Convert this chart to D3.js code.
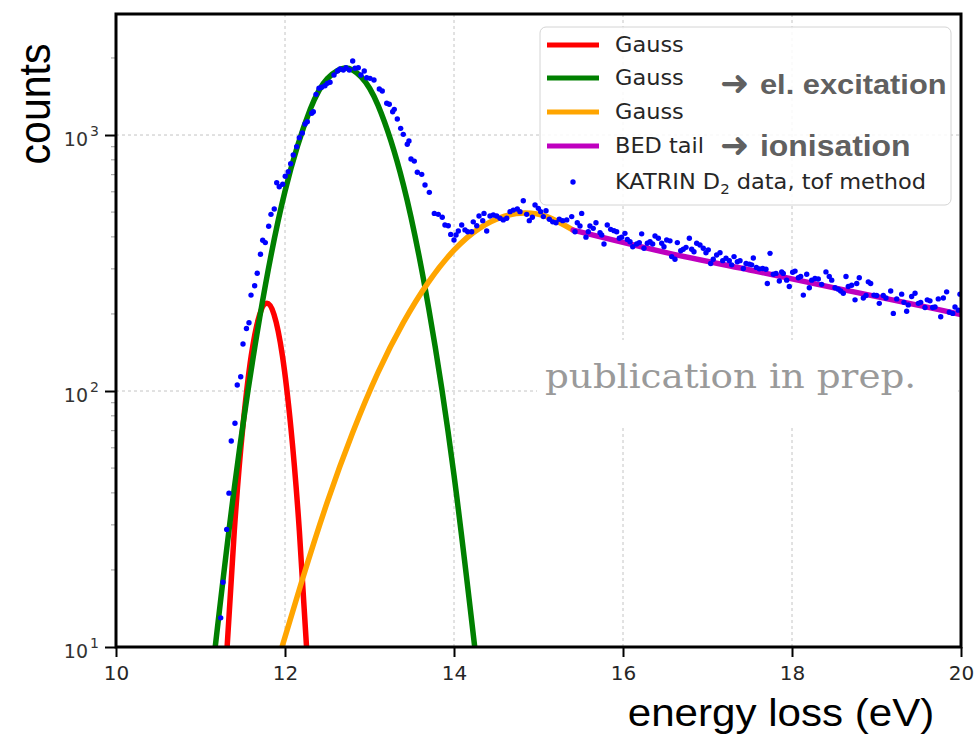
<!DOCTYPE html>
<html>
<head>
<meta charset="utf-8">
<script src="https://cdn.jsdelivr.net/npm/d3@7"></script>
<style>
body { margin: 0; background: #fff; }
svg { display: block; }
</style>
</head>
<body>
<script>
var dataE = [11.239, 11.266, 11.310, 11.337, 11.364, 11.408, 11.435, 11.476, 11.503, 11.544,
    11.574, 11.598, 11.641, 11.671, 11.710, 11.736, 11.767, 11.807, 11.834, 11.873,
    11.902, 11.932, 11.973, 12.003, 12.039, 12.067, 12.098, 12.138, 12.169, 12.205,
    12.237, 12.264, 12.316, 12.335, 12.367, 12.402, 12.434, 12.473, 12.501, 12.533,
    12.580, 12.621, 12.651, 12.690, 12.722, 12.761, 12.801, 12.828, 12.867, 12.899,
    12.938, 12.967, 13.006, 13.053, 13.116, 13.151, 13.204, 13.234, 13.274, 13.293,
    13.329, 13.369, 13.400, 13.447, 13.467, 13.491, 13.530, 13.566, 13.618, 13.657,
    13.708, 13.767, 13.814, 13.861, 13.893, 13.932, 13.961, 14.000, 14.024, 14.051,
    14.091, 14.130, 14.162, 14.209, 14.228, 14.269, 14.296, 14.340, 14.355, 14.387,
    14.426, 14.465, 14.505, 14.544, 14.583, 14.624, 14.663, 14.702, 14.749, 14.781,
    14.820, 14.860, 14.891, 14.927, 14.959, 14.998, 15.026, 15.057, 15.089, 15.128,
    15.168, 15.207, 15.246, 15.286, 15.334, 15.393, 15.432, 15.459, 15.491, 15.511,
    15.562, 15.589, 15.609, 15.648, 15.680, 15.728, 15.748, 15.775, 15.814, 15.854,
    15.893, 15.925, 15.956, 15.984, 16.023, 16.051, 16.083, 16.115, 16.162, 16.193,
    16.221, 16.248, 16.288, 16.320, 16.351, 16.379, 16.418, 16.458, 16.485, 16.517,
    16.556, 16.576, 16.615, 16.643, 16.683, 16.713, 16.746, 16.785, 16.813, 16.840,
    16.872, 16.911, 16.950, 16.982, 17.009, 17.038, 17.068, 17.108, 17.148, 17.180,
    17.219, 17.258, 17.286, 17.314, 17.353, 17.385, 17.424, 17.456, 17.495, 17.523,
    17.542, 17.578, 17.613, 17.653, 17.692, 17.708, 17.740, 17.779, 17.811, 17.850,
    17.878, 17.897, 17.937, 17.968, 18.008, 18.036, 18.075, 18.103, 18.134, 18.174,
    18.205, 18.233, 18.272, 18.311, 18.351, 18.402, 18.441, 18.470, 18.509, 18.548,
    18.576, 18.607, 18.639, 18.666, 18.706, 18.746, 18.766, 18.796, 18.844, 18.876,
    18.903, 18.931, 18.970, 19.002, 19.033, 19.080, 19.112, 19.168, 19.199, 19.239,
    19.298, 19.325, 19.357, 19.376, 19.416, 19.456, 19.495, 19.523, 19.574, 19.601,
    19.633, 19.665, 19.692, 19.731, 19.760, 19.791, 19.830, 19.862, 19.902, 19.929,
    19.968, 19.988];
var dataN = [13.0, 17.9, 28.8, 39.9, 63.8, 74.8, 105.5, 113.7, 152.6, 175.5,
    184.9, 237, 257.8, 288.5, 342, 388, 380, 440, 490, 514,
    651, 628, 642, 690, 719, 772, 835, 900, 976, 1018,
    1104, 1127, 1216, 1233, 1442, 1522, 1536, 1558, 1592, 1607,
    1716, 1778, 1811, 1794, 1832, 1794, 1946, 1822, 1832, 1716,
    1778, 1675, 1665, 1640, 1512, 1485, 1330, 1318, 1233, 1260,
    1155, 1062, 1006, 920, 948, 806, 791, 715, 702, 638,
    597, 494, 490, 477, 445, 442, 409, 389, 407, 422,
    445, 426, 419, 419, 458, 442, 483, 463, 494, 422,
    483, 487, 483, 473, 466, 473, 502, 509, 514, 502,
    554, 490, 463, 477, 533, 517, 502, 480, 506, 469,
    458, 454, 469, 463, 466, 480, 419, 454, 441, 494,
    399, 419, 441, 432, 454, 415, 407, 375, 445, 428,
    423, 419, 395, 399, 413, 391, 383, 366, 375, 380,
    411, 361, 378, 383, 375, 403, 395, 378, 366, 389,
    386, 335, 327, 380, 353, 358, 364, 395, 358, 350,
    378, 372, 361, 347, 356, 315, 327, 340, 347, 323,
    330, 323, 311, 335, 320, 323, 301, 315, 313, 311,
    331, 304, 300, 301, 299, 263, 345, 286, 288, 269,
    292, 288, 271, 256, 291, 294, 277, 280, 237, 286,
    253, 271, 275, 274, 261, 292, 280, 271, 253, 250,
    246, 241, 280, 256, 259, 227, 263, 277, 231, 236,
    267, 263, 237, 236, 220, 236, 231, 246, 201, 229,
    239, 222, 205, 217, 234, 241, 220, 222, 212, 227,
    225, 212, 213, 229, 195, 231, 244, 203, 201, 213,
    207, 239];

// fit components [energy, counts]
var gaussRed = [[11.28, 6.5], [11.40, 28.4], [11.50, 71.7], [11.60, 137], [11.70, 199], [11.785, 220],
    [11.87, 199], [11.97, 137], [12.07, 71.7], [12.17, 28.4], [12.29, 6.5]];
var gaussGreen = [[11.10, 6.1], [11.40, 41.8], [11.70, 193], [12.00, 603], [12.30, 1263], [12.50, 1659],
    [12.71, 1828], [12.90, 1689], [13.10, 1308], [13.40, 641], [13.70, 211], [14.00, 46.9], [14.32, 6.1]];
var gaussOrange = [[11.90, 8.5], [12.20, 18.1], [12.50, 36.8], [12.80, 68.7], [13.10, 118], [13.40, 185],
    [13.70, 267], [14.00, 355], [14.30, 432], [14.60, 482], [14.84, 496], [15.10, 480], [15.41, 425]];
var bedTail = [[15.41, 425], [16.5, 348], [17.5, 297], [18.5, 253], [19.5, 216], [20.0, 199]];

var xTicks = [10, 12, 14, 16, 18, 20];
var yTicks = [10, 100, 1000];
var legendLabels = ["Gauss", "Gauss", "Gauss", "BED tail"];
var legendColors = ["#ff0000", "#008000", "#ffa500", "#bf00bf"];

var svg = d3.select("body").append("svg")
    .attr("width", 975)
    .attr("height", 736)
    .style("font-family", "'DejaVu Sans', sans-serif");

var x = d3.scaleLinear().domain([10, 20]).range([116, 961]);
var y = d3.scaleLog().domain([10, 2970]).range([647, 14]);

var x0 = x.range()[0], x1 = x.range()[1], y0 = y.range()[0], y1 = y.range()[1];

svg.append("clipPath").attr("id", "plotclip")
    .append("rect")
    .attr("x", x0).attr("y", y1)
    .attr("width", x1 - x0).attr("height", y0 - y1);

// grid
var grid = svg.append("g").attr("stroke", "#c4c4c4").attr("stroke-width", 1).attr("stroke-dasharray", "3,3");
grid.selectAll(".gx").data(xTicks.slice(1, -1)).join("line")
    .attr("x1", d => x(d)).attr("x2", d => x(d))
    .attr("y1", y1).attr("y2", y0);
grid.selectAll(".gy").data(yTicks.slice(1)).join("line")
    .attr("x1", x0).attr("x2", x1)
    .attr("y1", d => y(d)).attr("y2", d => y(d));

// white box behind the watermark
svg.append("rect")
    .attr("x", 537).attr("y", 340)
    .attr("width", 421).attr("height", 86)
    .attr("fill", "#fff");

svg.append("text")
    .attr("transform", "translate(545,388) scale(1.13,1)")
    .attr("font-family", "'DejaVu Serif', serif")
    .attr("font-size", 33)
    .attr("fill", "#9a9a9a")
    .text("publication in prep.");

// fit curves
var line = d3.line()
    .x(d => x(d[0]))
    .y(d => y(d[1]))
    .curve(d3.curveNatural);

var curves = svg.append("g").attr("clip-path", "url(#plotclip)");
[gaussRed, gaussGreen, gaussOrange, bedTail].forEach(function(c, i) {
    curves.append("path")
        .attr("d", line(c))
        .attr("fill", "none")
        .attr("stroke", legendColors[i])
        .attr("stroke-width", 5.5)
        .attr("stroke-linecap", "round");
});

// data points
var pts = d3.range(Math.min(dataE.length, dataN.length)).map(i => [dataE[i], dataN[i]]);
svg.append("g").attr("clip-path", "url(#plotclip)")
    .selectAll("circle").data(pts).join("circle")
    .attr("cx", d => x(d[0]))
    .attr("cy", d => y(d[1]))
    .attr("r", 2.7)
    .attr("fill", "#0000ff");

// axes
var xAxis = svg.append("g")
    .attr("transform", "translate(0," + y0 + ")")
    .call(d3.axisBottom(x).tickValues(xTicks).tickSize(10).tickPadding(9).tickFormat(d3.format("d")));
xAxis.select(".domain").remove();
xAxis.selectAll(".tick line").attr("stroke", "#000").attr("stroke-width", 2);
xAxis.selectAll(".tick text")
    .attr("font-size", 20)
    .attr("font-family", "'DejaVu Sans', sans-serif")
    .attr("fill", "#262626");

// minor log ticks on y
var minor = [];
[10, 100, 1000].forEach(function(dec) {
    for (var k = 2; k <= 9; k++) if (dec * k < 2970) minor.push(dec * k);
});
svg.append("g").selectAll("line").data(minor).join("line")
    .attr("x1", x0 - 5).attr("x2", x0)
    .attr("y1", d => y(d)).attr("y2", d => y(d))
    .attr("stroke", "#9a9a9a").attr("stroke-width", 1);

var yAxis = svg.append("g")
    .attr("transform", "translate(" + x0 + ",0)")
    .call(d3.axisLeft(y).tickValues(yTicks).tickSize(11).tickFormat(""));
yAxis.select(".domain").remove();
yAxis.selectAll(".tick line").attr("stroke", "#000").attr("stroke-width", 2);

var ylab = svg.append("g").attr("fill", "#333").attr("font-family", "'DejaVu Sans', sans-serif");
ylab.selectAll(".base").data(yTicks).join("text")
    .attr("x", 88).attr("y", d => y(d) + 11)
    .attr("text-anchor", "end")
    .attr("font-size", 19)
    .text("10");
ylab.selectAll(".exp").data(yTicks).join("text")
    .attr("x", 90).attr("y", d => y(d) + 1)
    .attr("font-size", 14)
    .text(d => Math.round(Math.log10(d)));

// frame
svg.append("rect")
    .attr("x", x0).attr("y", y1)
    .attr("width", x1 - x0).attr("height", y0 - y1)
    .attr("fill", "none")
    .attr("stroke", "#000")
    .attr("stroke-width", 3);

// axis titles
svg.append("text")
    .attr("transform", "translate(50,104) rotate(-90) scale(1,1.08)")
    .attr("text-anchor", "middle")
    .attr("font-family", "'Liberation Sans', Arial, sans-serif")
    .attr("font-size", 41)
    .attr("fill", "#000")
    .text("counts");

svg.append("text")
    .attr("transform", "translate(781,726) scale(1.08,1)")
    .attr("text-anchor", "middle")
    .attr("font-family", "'Liberation Sans', Arial, sans-serif")
    .attr("font-size", 39)
    .attr("fill", "#000")
    .text("energy loss (eV)");

// legend
var legend = svg.append("g");
legend.append("rect")
    .attr("x", 540).attr("y", 27)
    .attr("width", 411).attr("height", 178)
    .attr("rx", 6)
    .attr("fill", "#fff").attr("fill-opacity", 0.85)
    .attr("stroke", "#d4d4d4").attr("stroke-width", 1);

var rowY = [45, 78, 112, 146, 182];
legendLabels.forEach(function(lab, i) {
    legend.append("line")
        .attr("x1", 547).attr("x2", 599)
        .attr("y1", rowY[i]).attr("y2", rowY[i])
        .attr("stroke", legendColors[i]).attr("stroke-width", 5);
    legend.append("text")
        .attr("transform", "translate(615," + (rowY[i] + 7) + ") scale(1.07,1)")
        .attr("font-size", 21)
        .attr("fill", "#262626")
        .text(lab);
});
legend.append("circle")
    .attr("cx", 573).attr("cy", rowY[4])
    .attr("r", 2.7).attr("fill", "#0000ff");
var katrin = legend.append("text")
    .attr("transform", "translate(615," + (rowY[4] + 7) + ") scale(1.07,1)")
    .attr("font-size", 21)
    .attr("fill", "#262626");
katrin.append("tspan").text("KATRIN D");
katrin.append("tspan").attr("font-size", 14).attr("dy", 5).text("2");
katrin.append("tspan").attr("dy", -5).text(" data, tof method");

// annotations
var notes = [["el. excitation", 94, 28], ["ionisation", 156, 29]];
notes.forEach(function(n) {
    svg.append("text")
        .attr("x", 720).attr("y", n[1] + 1)
        .attr("font-family", "'DejaVu Sans', sans-serif")
        .attr("font-weight", "bold")
        .attr("font-size", 35)
        .attr("fill", "#606060")
        .text("\u279C");
    svg.append("text")
        .attr("transform", "translate(760," + n[1] + ") scale(1.1,1)")
        .attr("font-family", "'Liberation Sans', Arial, sans-serif")
        .attr("font-weight", "bold")
        .attr("font-size", n[2])
        .attr("fill", "#606060")
        .text(n[0]);
});
</script>
</body>
</html>
